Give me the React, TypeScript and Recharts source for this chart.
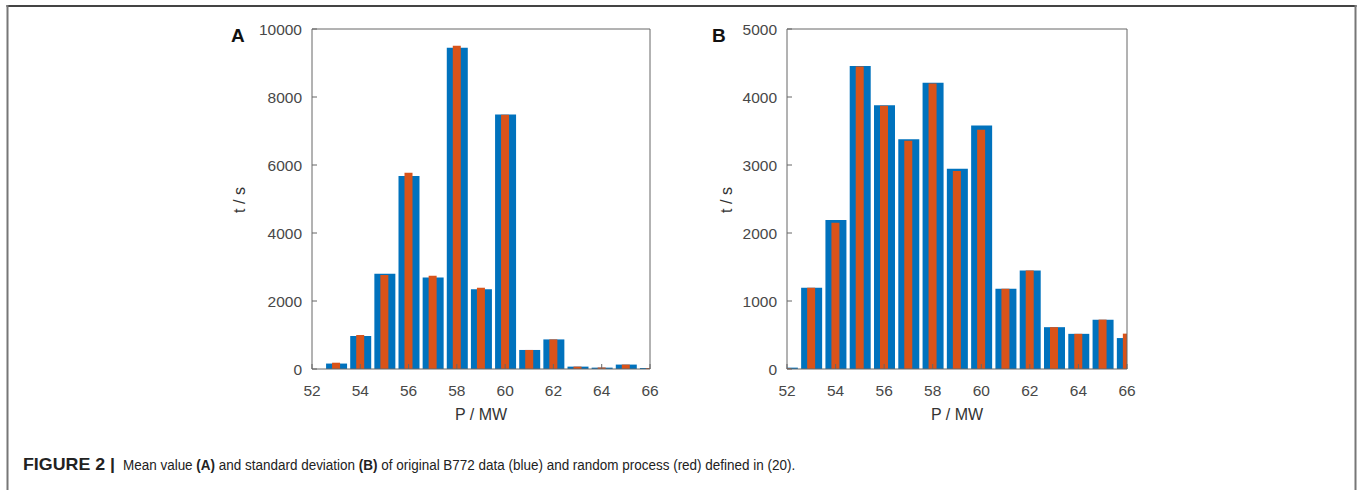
import React from 'react';
import { BarChart, Bar, XAxis, YAxis } from 'recharts';

// P / MW bins
const power = [52, 53, 54, 55, 56, 57, 58, 59, 60, 61, 62, 63, 64, 65, 66];

// (A) mean value, t / s
const meanOriginal = [0, 160, 970, 2800, 5680, 2690, 9450, 2345, 7485, 560, 870, 70, 40, 130, 30];
const meanRandom = [0, 185, 1000, 2765, 5775, 2745, 9505, 2390, 7480, 560, 870, 70, 45, 130, 25];

// (B) standard deviation, t / s
const stdOriginal = [20, 1195, 2190, 4455, 3880, 3380, 4210, 2945, 3580, 1180, 1450, 615, 517, 726, 455];
const stdRandom = [15, 1195, 2150, 4450, 3870, 3355, 4200, 2910, 3520, 1180, 1450, 615, 517, 726, 520];

const xTicks = [52, 54, 56, 58, 60, 62, 64, 66];
const xTicksTop = [54, 56, 58, 60, 62, 64];
const meanTicks = [0, 2000, 4000, 6000, 8000, 10000];
const meanTicksRight = [2000, 4000, 6000, 8000];
const stdTicks = [0, 1000, 2000, 3000, 4000, 5000];
const stdTicksRight = [1000, 2000, 3000, 4000];

const BLUE = '#0072BD';
const RED = '#D95319';
const AXIS = '#666';
const FONT = '"Liberation Sans", Arial, Helvetica, sans-serif';

type PanelProps = {
  left: number;
  width: number;
  original: number[];
  random: number[];
  yMax: number;
  yTicks: number[];
  yTicksRight: number[];
};

const Panel = ({ left, width, original, random, yMax, yTicks, yTicksRight }: PanelProps) => {
  const data = power.map((p, i) => ({ p, original: original[i], random: random[i] }));
  const tickStyle = { fill: '#484848', fontSize: 15.5, fontFamily: FONT };
  return (
    <div style={{ position: 'absolute', left, top: 0 }}>
      <BarChart width={width} height={430} data={data} margin={{ top: 19, right: 20, bottom: 31, left: 32 }}>
        <XAxis
          dataKey="p"
          type="number"
          domain={[52, 66]}
          ticks={xTicks}
          interval={0}
          allowDataOverflow
          height={30}
          tickSize={-5}
          tickMargin={21}
          axisLine={{ stroke: AXIS }}
          tickLine={{ stroke: AXIS }}
          tick={tickStyle}
        />
        <XAxis
          xAxisId="top"
          orientation="top"
          dataKey="p"
          type="number"
          domain={[52, 66]}
          ticks={xTicksTop}
          interval={0}
          allowDataOverflow
          height={10}
          tickSize={-5}
          axisLine={{ stroke: AXIS }}
          tickLine={{ stroke: AXIS }}
          tick={false}
        />
        <YAxis
          type="number"
          domain={[0, yMax]}
          ticks={yTicks}
          interval={0}
          width={60}
          tickSize={-5}
          tickMargin={15}
          axisLine={{ stroke: AXIS }}
          tickLine={{ stroke: AXIS }}
          tick={tickStyle}
        />
        <YAxis
          yAxisId="right"
          orientation="right"
          type="number"
          domain={[0, yMax]}
          ticks={yTicksRight}
          interval={0}
          width={10}
          tickSize={-5}
          axisLine={{ stroke: AXIS }}
          tickLine={{ stroke: AXIS }}
          tick={false}
        />
        <Bar dataKey="original" fill={BLUE} barSize={21} isAnimationActive={false} />
        <Bar dataKey="random" xAxisId="top" yAxisId="right" fill={RED} barSize={8} isAnimationActive={false} />
      </BarChart>
    </div>
  );
};

const App = () => {
  return (
    <div style={{ position: 'absolute', left: 0, top: 0, width: 1358, height: 490, background: '#fff', overflow: 'hidden' }}>
      <Panel left={220} width={460} original={meanOriginal} random={meanRandom} yMax={10000} yTicks={meanTicks} yTicksRight={meanTicksRight} />
      <Panel left={695} width={462} original={stdOriginal} random={stdRandom} yMax={5000} yTicks={stdTicks} yTicksRight={stdTicksRight} />
      <svg width={1358} height={490} style={{ position: 'absolute', left: 0, top: 0, pointerEvents: 'none' }} fontFamily={FONT}>
        <line x1={6.5} y1={6} x2={1356.5} y2={6} stroke="#444" strokeWidth={2} />
        <line x1={7.5} y1={5} x2={7.5} y2={490} stroke="#777" strokeWidth={2} />
        <line x1={1355.5} y1={5} x2={1355.5} y2={490} stroke="#777" strokeWidth={2} />

        <text x={231} y={42} fontSize={19} fontWeight="bold" fill="#111">A</text>
        <text x={712} y={42} fontSize={19} fontWeight="bold" fill="#111">B</text>

        <text x={481} y={420} fontSize={16} fill="#333" textAnchor="middle">P / MW</text>
        <text x={957} y={420} fontSize={16} fill="#333" textAnchor="middle">P / MW</text>

        <text x={245} y={200} fontSize={16} fill="#333" textAnchor="middle" transform="rotate(-90 245 200)">t / s</text>
        <text x={732} y={200} fontSize={16} fill="#333" textAnchor="middle" transform="rotate(-90 732 200)">t / s</text>

        <g transform="translate(23 470) scale(1.08 1)">
          <text x={0} y={0} fontSize={16.5} fontWeight="bold" fill="#222">FIGURE 2 |</text>
        </g>
        <g transform="translate(123 470) scale(0.898 1)">
          <text x={0} y={0} fontSize={15} fill="#222">
            Mean value <tspan fontWeight="bold">(A)</tspan> and standard deviation <tspan fontWeight="bold">(B)</tspan> of original B772 data (blue) and random process (red) defined in (20).
          </text>
        </g>
      </svg>
    </div>
  );
};

export default App;
